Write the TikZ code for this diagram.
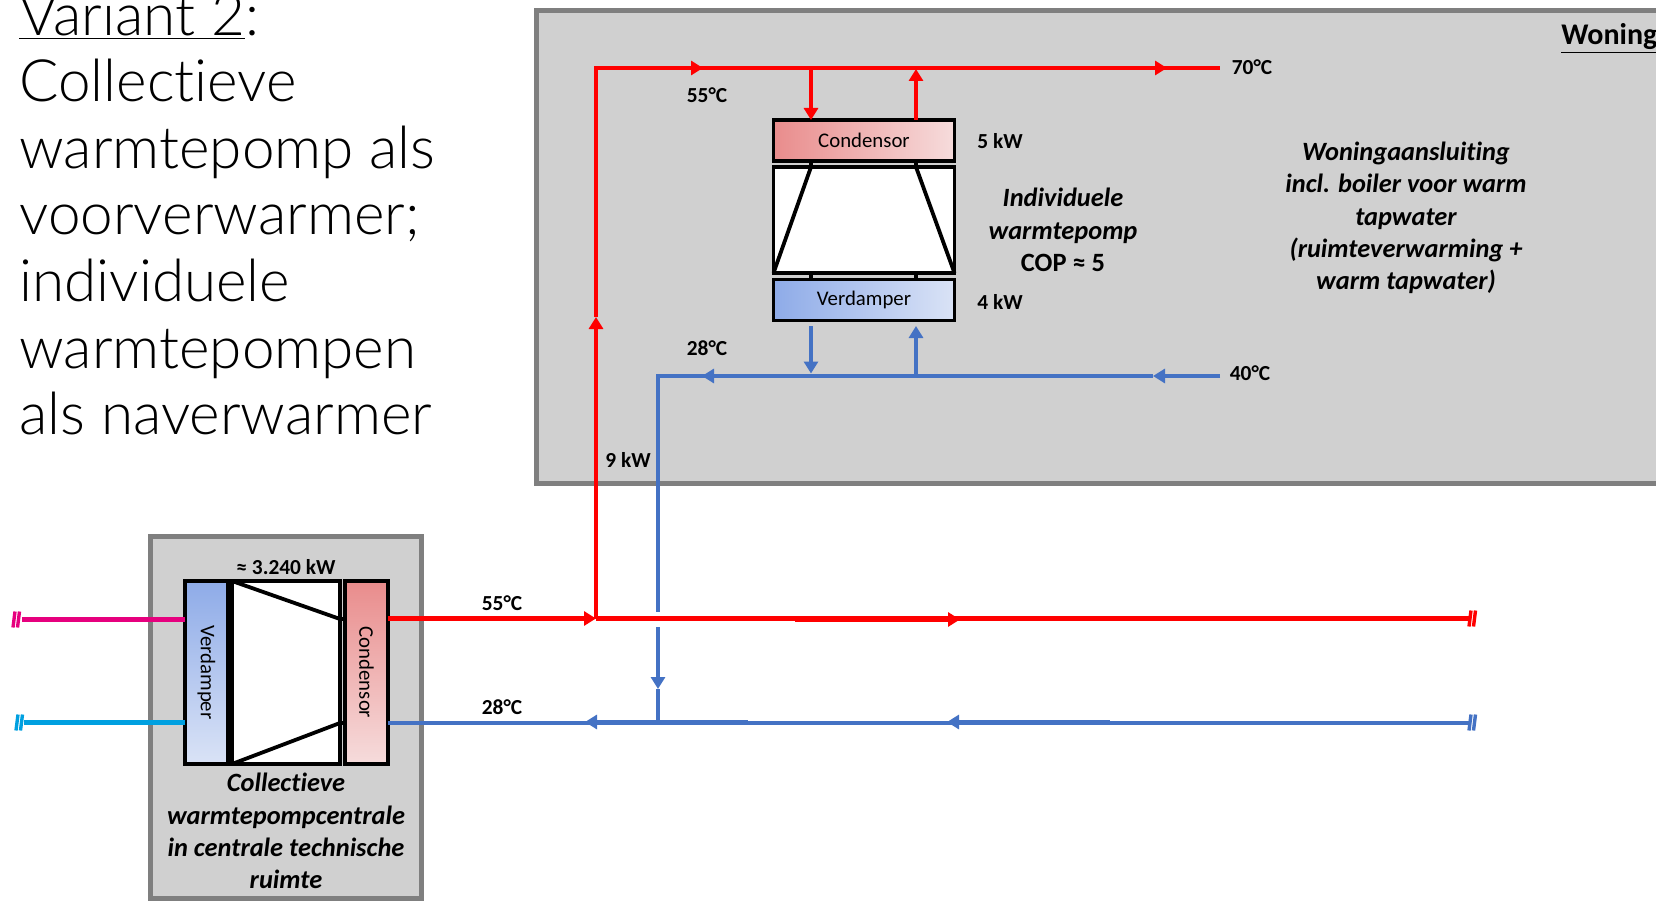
\documentclass[tikz,border=0pt]{standalone}
\usepackage{fontspec}
\setmainfont{Carlito}[Ligatures=NoCommon]
\newfontfamily\titlefont{Lato Light}[Ligatures=NoCommon]
\usepackage{xcolor}
\usetikzlibrary{calc,arrows.meta,positioning,shapes}
\definecolor{hot}{RGB}{255,0,0}
\definecolor{cold}{RGB}{68,114,196}
\definecolor{srchot}{RGB}{230,0,126}
\definecolor{srccold}{RGB}{0,160,224}
\definecolor{zone}{RGB}{208,208,208}
\definecolor{zoneline}{RGB}{127,127,127}
\definecolor{condleft}{RGB}{233,140,140}
\definecolor{condright}{RGB}{246,220,220}
\definecolor{evapleft}{RGB}{142,171,232}
\definecolor{evapright}{RGB}{218,227,246}

\begin{document}
\begin{tikzpicture}[x=0.5pt,y=-0.5pt,>={Triangle[length=6pt,width=7pt]},
      zonebox/.style={rectangle,draw=zoneline,fill=zone,line width=2.5pt,outer sep=0pt},
      hotpipe/.style={draw=hot,line width=2.2pt},
      coldpipe/.style={draw=cold,line width=2.2pt},
      part/.style={rectangle,draw=black,line width=1.9pt,outer sep=0pt,inner sep=0pt,font=\fontsize{10.4}{12}\selectfont},
      cond/.style={part,left color=condleft,right color=condright},
      evap/.style={part,left color=evapleft,right color=evapright},
      pcondbox/.style={part,top color=condleft,bottom color=condright},
      pevapbox/.style={part,top color=evapleft,bottom color=evapright},
      comp/.style={part,fill=white},
      wire/.style={draw=black,line width=1.9pt},
      lab/.style={inner sep=0pt,font=\fontsize{10.7}{12}\bfseries\selectfont},
      note/.style={inner sep=0pt,align=center,font=\fontsize{13.2}{16.1}\bfseries\itshape\selectfont},
      brk/.pic={\draw[line width=1.7pt] (-1,-8) -- (-3,8) (3.5,-8) -- (1.5,8);}]
    \useasboundingbox (0,0) rectangle (1656,904);
    % title
    \node[anchor=north west,inner sep=0pt,align=left,font=\fontsize{29.2}{33.3}\titlefont] (title) at (19,-7)
      {\underline{Variant 2}:\\Collectieve\\warmtepomp als\\voorverwarmer;\\individuele\\warmtepompen\\als naverwarmer};
    % grey zones
    \node[zonebox,minimum width=570pt,minimum height=236pt] (house) at (1106,247) {};
    \node[zonebox,minimum width=135.5pt,minimum height=181pt] (plant) at (286,717) {};
    \node[anchor=west,lab,font=\fontsize{15}{16}\bfseries\selectfont] (housetag) at (1561,39) {\underline{Woning}};
    % house pump
    \node[cond,minimum width=90.5pt,minimum height=20.5pt] (hcond) at (864,140.5) {\raisebox{-0.5pt}{Condensor}};
    \node[comp,minimum width=90.5pt,minimum height=53pt] (hcomp) at (864,220) {};
    \node[evap,minimum width=90.5pt,minimum height=20.5pt] (hevap) at (864,300) {\raisebox{-1pt}{Verdamper}};
    \coordinate (tl) at (811,161);  \coordinate (tr) at (916,161);
    \coordinate (bl) at (811,279);  \coordinate (br) at (916,279);
    \draw[wire] (tl) -- (tl|-hcomp.north) -- (hcomp.south west);
    \draw[wire] (tr) -- (tr|-hcomp.north) -- (hcomp.south east);
    \draw[wire] (bl) -- (bl|-hcomp.south);
    \draw[wire] (br) -- (br|-hcomp.south);
    % plant pump
    \node[pevapbox,rotate=-90,minimum width=91.5pt,minimum height=21.5pt] (pevap) at (206.5,672.5) {Verdamper};
    \node[comp,minimum width=54pt,minimum height=91.5pt] (pcomp) at (286,672.5) {};
    \node[pcondbox,rotate=-90,minimum width=91.5pt,minimum height=21.5pt] (pcond) at (366.5,672.5) {Condensor};
    \coordinate (ptop) at (0,619);  \coordinate (pbot) at (0,723);
    \draw[wire] (pcomp.north west) -- (pcomp.east|-ptop) -- (pcond.south|-ptop);
    \draw[wire] (pcomp.south west) -- (pcomp.east|-pbot) -- (pcond.south|-pbot);
    \draw[wire] (pevap.north|-ptop) -- (pcomp.west|-ptop);
    \draw[wire] (pevap.north|-pbot) -- (pcomp.west|-pbot);
    % hot side
    \coordinate (hotcorner) at (596,68);
    \coordinate (hotjoin) at (596,618.5);
    \coordinate (hotup) at (596,317);
    \coordinate (hotmid) at (703,68);
    \coordinate (hottip) at (1167,68);
    \coordinate (hotend) at (1220,68);
    \coordinate (mainstart) at (795,619.5);
    \coordinate (mainmid) at (960,619.5);
    \coordinate (mainend) at (1471,618.5);
    \coordinate (hotdown) at (811,68);
    \coordinate (hotback) at (916,69);
    \draw[hotpipe,->] (pcond.north|-hotjoin) -- (hotjoin);
    \draw[hotpipe] (hotjoin) -- (mainend);
    \draw[hotpipe,->] (mainstart) -- (mainmid);
    \draw[hotpipe,->] (hotjoin) -- (hotup);
    \draw[hotpipe] (hotup) -- (hotcorner) -- (hotend);
    \draw[hotpipe,->] (hotcorner) -- (hotmid);
    \draw[hotpipe,->] (hotcorner) -- (hottip);
    \draw[hotpipe,->] (hotdown) -- (hotdown|-hcond.north);
    \draw[hotpipe,->] (hotback|-hcond.north) -- (hotback);
    \coordinate (mainbrk) at (1472,618.5);
    \pic[color=hot] at (mainbrk) {brk};
    % cold side
    \coordinate (coldcorner) at (658,376);
    \coordinate (coldmid) at (702,376);
    \coordinate (coldtip) at (1153,376);
    \coordinate (coldend) at (1220,376);
    \coordinate (gapup) at (658,612);
    \coordinate (gapdown) at (658,627);
    \coordinate (coldjoin) at (658,722.5);
    \coordinate (dropmid) at (658,689);
    \coordinate (backend) at (1471,723);
    \coordinate (backtip) at (947,722);
    \coordinate (backmid) at (585,722);
    \coordinate (backstart) at (1110,722);
    \coordinate (backnext) at (748,722);
    \coordinate (evapout) at (811,326);
    \coordinate (evapdown) at (811,373.5);
    \coordinate (evapin) at (916,326);
    \coordinate (evapjoin) at (916,376);
    \draw[coldpipe,->] (coldend) -- (coldtip);
    \draw[coldpipe] (coldtip) -- (coldcorner) -- (gapup);
    \draw[coldpipe,->] (coldtip) -- (coldmid);
    \draw[coldpipe,->] (gapdown) -- (dropmid);
    \draw[coldpipe] (dropmid) -- (coldjoin);
    \draw[coldpipe] (backend) -- (pcond.north|-backend);
    \draw[coldpipe,->] (backstart) -- (backtip);
    \draw[coldpipe,->] (backnext) -- (backmid);
    \draw[coldpipe,->] (evapout) -- (evapdown);
    \draw[coldpipe,->] (evapjoin) -- (evapin);
    \coordinate (backbrk) at (1472,722.5);
    \pic[color=cold] at (backbrk) {brk};
    % source side
    \coordinate (pinkend) at (22,619.5);
    \coordinate (cyanend) at (24,722.5);
    \coordinate (pinkbrk) at (16,619.5);
    \coordinate (cyanbrk) at (19,722.5);
    \draw[draw=srchot,line width=2.2pt] (pinkend) -- (pevap.south|-pinkend);
    \draw[draw=srccold,line width=2.2pt] (cyanend) -- (pevap.south|-cyanend);
    \pic[color=srchot] at (pinkbrk) {brk};
    \pic[color=srccold] at (cyanbrk) {brk};
    % labels
    \node[lab] (t55) at (707,95.5) {55°C};
    \node[lab] (t28) at (707,348) {28°C};
    \node[lab] (t70) at (1252,67) {70°C};
    \node[lab] (t40) at (1250,373) {40°C};
    \node[lab] (p5) at (1000,141) {5 kW};
    \node[lab] (p4) at (1000,302) {4 kW};
    \node[lab] (p9) at (628,460) {9 kW};
    \node[lab] (t55b) at (502,603) {55°C};
    \node[lab] (t28b) at (502,707) {28°C};
    \node[lab] (pcap) at (286,567) {≈ 3.240 kW};
    \node[note] (hnote) at (1063,230) {Individuele\\warmtepomp\\{\upshape COP ≈ 5}};
    \node[note] (wnote) at (1406,218) {Woningaansluiting\\incl. boiler voor warm\\tapwater\\(ruimteverwarming +\\warm tapwater)};
    \node[note] (pnote) at (286,831) {Collectieve\\warmtepompcentrale\\in centrale technische\\ruimte};
  \end{tikzpicture}
\end{document}
